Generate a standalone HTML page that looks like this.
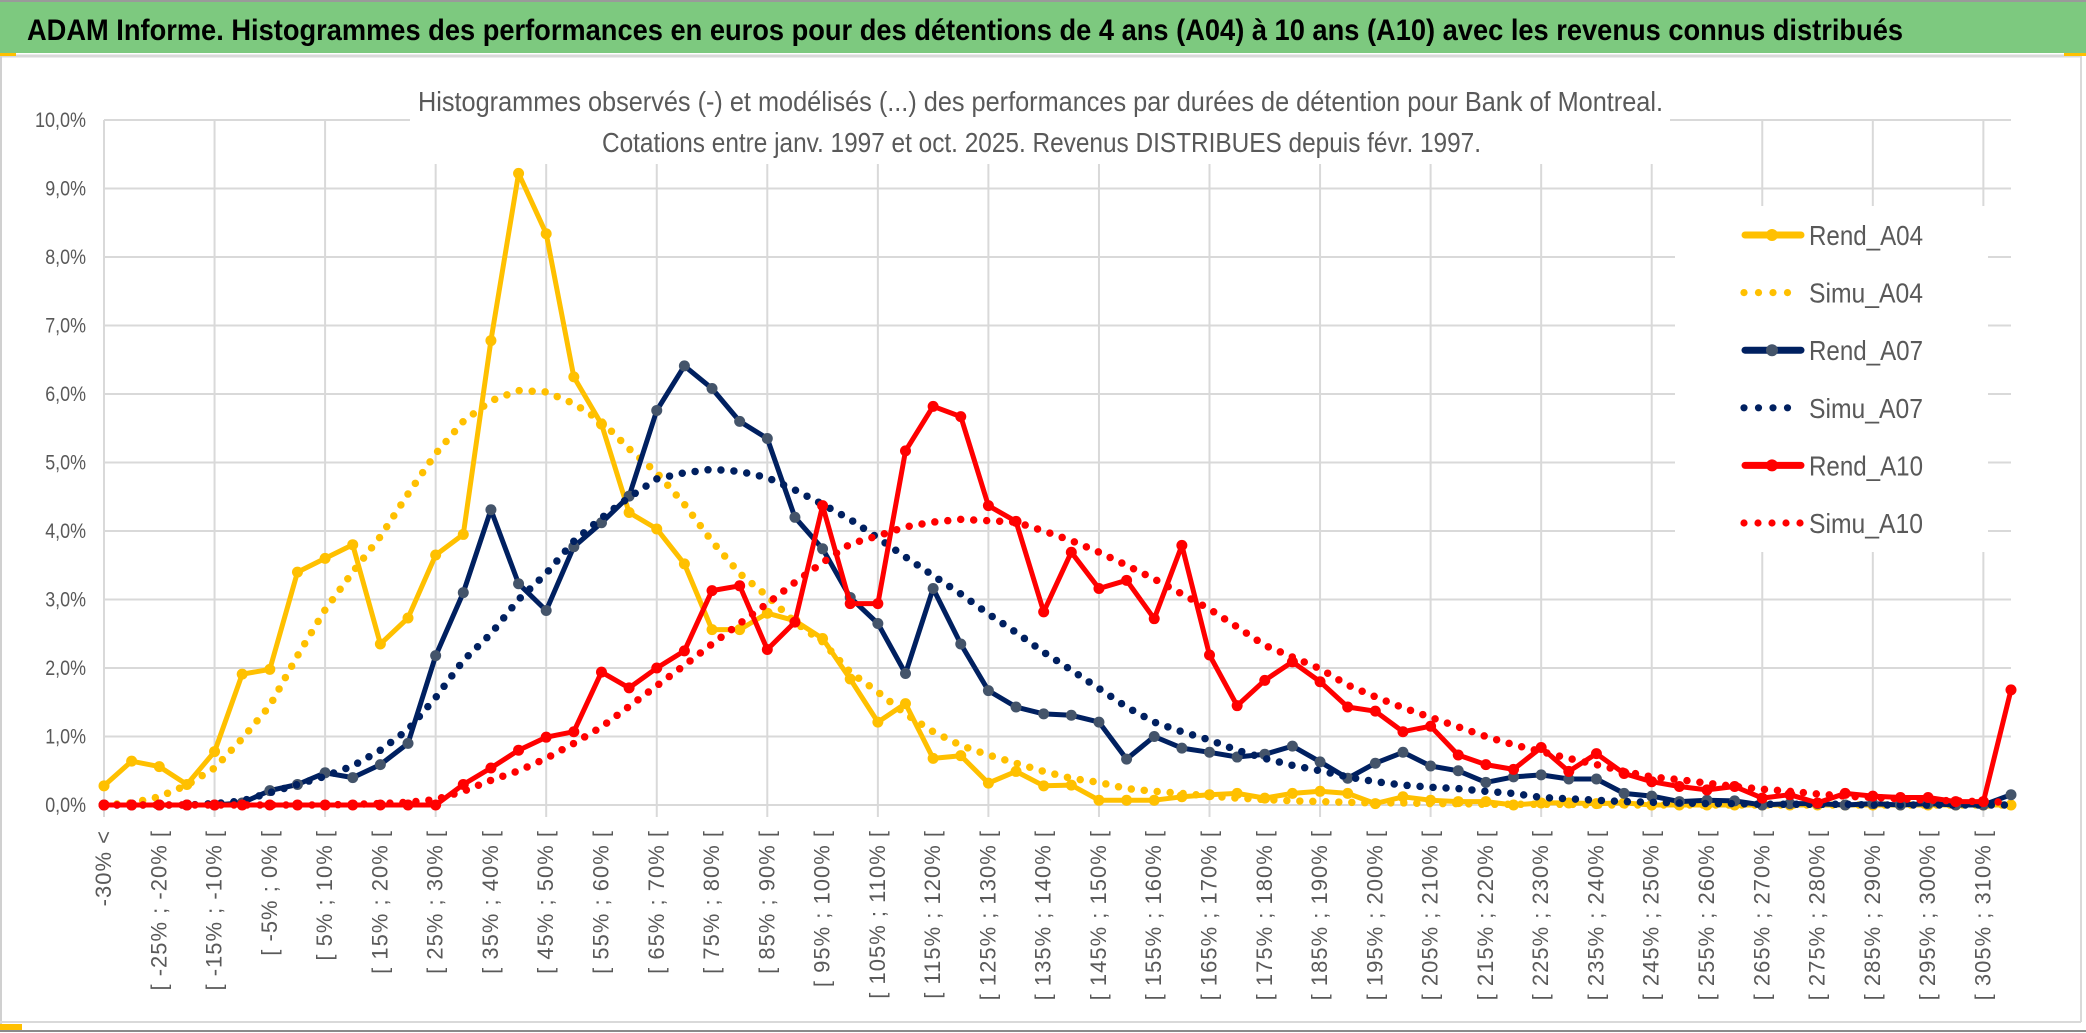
<!DOCTYPE html>
<html><head><meta charset="utf-8">
<style>
html,body{margin:0;padding:0;background:#fff;}
svg{display:block;}
text{font-family:"Liberation Sans",sans-serif;}
</style></head>
<body>
<svg id="chart" width="2086" height="1033" viewBox="0 0 2086 1033" xmlns="http://www.w3.org/2000/svg">
  <rect x="0" y="0" width="2086" height="1033" fill="#fff"/>
  <rect x="0" y="0" width="2086" height="53" fill="#7dc97f"/>
  <line x1="0" y1="1" x2="2086" y2="1" stroke="#9a9a9a" stroke-width="2"/>
  <text x="27" y="40" font-size="30" font-weight="bold" fill="#000" textLength="1876" lengthAdjust="spacingAndGlyphs">ADAM Informe. Histogrammes des performances en euros pour des détentions de 4 ans (A04) à 10 ans (A10) avec les revenus connus distribués</text>
  <line x1="0" y1="56" x2="2081" y2="56" stroke="#d9d9d9" stroke-width="3"/>
  <rect x="0" y="53" width="16" height="3" fill="#ffc000"/>
  <rect x="2064" y="53" width="22" height="3" fill="#ffc000"/>
  <line x1="2081" y1="56" x2="2081" y2="1022" stroke="#d9d9d9" stroke-width="2"/>
  <line x1="1" y1="56" x2="1" y2="1031" stroke="#d0d0d0" stroke-width="2"/>
  <line x1="0" y1="1022" x2="2081" y2="1022" stroke="#d9d9d9" stroke-width="2"/>
  <rect x="0" y="1024" width="22" height="6" fill="#ffc000"/>
  <line x1="0" y1="1031" x2="2086" y2="1031" stroke="#8a8a8a" stroke-width="2"/>
  <g id="grid"></g>
  <g id="yaxis"></g>
  <g id="xaxis"></g>
  <rect x="410" y="62" width="1260" height="102" fill="#fff"/>
  <text x="418" y="111" font-size="28" fill="#595959" textLength="1245" lengthAdjust="spacingAndGlyphs">Histogrammes observés (-) et modélisés (...) des performances par durées de détention pour Bank of Montreal.</text>
  <text x="602" y="152" font-size="28" fill="#595959" textLength="879" lengthAdjust="spacingAndGlyphs">Cotations entre janv. 1997 et oct. 2025. Revenus DISTRIBUES depuis févr. 1997.</text>
  <rect x="1675" y="206" width="313" height="346" fill="#fff"/>
  <g id="series"></g>
  <g id="legend"></g>
</svg>
<script>
const rendA04 = [0.28,0.64,0.56,0.30,0.78,1.91,1.98,3.40,3.60,3.80,2.35,2.73,3.65,3.95,6.78,9.22,8.34,6.25,5.56,4.27,4.03,3.52,2.56,2.56,2.8,2.69,2.43,1.84,1.21,1.48,0.68,0.72,0.32,0.49,0.28,0.29,0.07,0.07,0.07,0.12,0.15,0.17,0.1,0.17,0.2,0.17,0.02,0.12,0.07,0.05,0.05,0,0.03,0.03,0.02,0.03,0,0,0,0,0,0,0,0,0,0,0,0,0,0];
const simuA04 = [0,0.03,0.12,0.29,0.54,0.97,1.45,2.18,2.85,3.4,3.92,4.54,5.13,5.6,5.9,6.05,6.03,5.86,5.6,5.2,4.85,4.39,3.85,3.38,3.05,2.67,2.38,1.94,1.65,1.33,1.07,0.87,0.73,0.61,0.49,0.39,0.33,0.24,0.2,0.17,0.13,0.1,0.08,0.06,0.05,0.04,0.03,0.03,0.02,0.02,0.01,0.01,0.01,0.01,0,0,0,0,0,0,0,0,0,0,0,0,0,0,0,0];
const rendA07 = [0,0,0,0,0,0.03,0.21,0.3,0.47,0.4,0.59,0.9,2.18,3.1,4.31,3.23,2.84,3.77,4.12,4.51,5.76,6.41,6.08,5.6,5.35,4.2,3.74,3.03,2.65,1.92,3.16,2.35,1.67,1.43,1.33,1.31,1.21,0.67,1.0,0.83,0.77,0.7,0.74,0.86,0.63,0.39,0.61,0.77,0.57,0.5,0.33,0.41,0.44,0.38,0.38,0.17,0.13,0.05,0.07,0.06,0,0.02,0.02,0,0.02,0,0.02,0,0,0.15];
const simuA07 = [0,0,0,0,0.02,0.06,0.18,0.3,0.42,0.57,0.8,1.1,1.57,2.11,2.5,3.0,3.38,3.85,4.19,4.49,4.76,4.85,4.9,4.87,4.78,4.6,4.39,4.17,3.9,3.62,3.35,3.08,2.79,2.52,2.23,1.97,1.7,1.43,1.21,1.07,0.95,0.8,0.68,0.58,0.5,0.41,0.34,0.29,0.26,0.24,0.2,0.17,0.11,0.09,0.07,0.05,0.04,0.03,0.02,0.02,0.01,0.01,0.01,0.01,0,0,0,0,0,0];
const rendA10 = [0,0,0,0,0,0,0,0,0,0,0,0,0,0.3,0.54,0.8,0.99,1.07,1.94,1.71,2.0,2.25,3.13,3.2,2.27,2.67,4.37,2.94,2.94,5.17,5.82,5.67,4.37,4.14,2.82,3.69,3.16,3.28,2.72,3.79,2.19,1.45,1.82,2.09,1.8,1.43,1.37,1.07,1.15,0.73,0.59,0.52,0.84,0.49,0.75,0.46,0.34,0.27,0.22,0.27,0.1,0.15,0.03,0.17,0.13,0.11,0.11,0.05,0.05,1.68];
const simuA10 = [0,0,0,0,0,0,0,0,0,0.01,0.02,0.04,0.08,0.2,0.36,0.5,0.68,0.9,1.14,1.44,1.74,2.04,2.35,2.65,2.94,3.25,3.54,3.81,3.93,4.06,4.13,4.17,4.15,4.13,4.0,3.86,3.69,3.5,3.3,3.08,2.86,2.6,2.33,2.16,1.99,1.75,1.58,1.42,1.28,1.14,1.0,0.88,0.78,0.68,0.59,0.49,0.41,0.37,0.32,0.27,0.23,0.2,0.16,0.13,0.11,0.09,0.07,0.06,0.05,0.04];
const yTicks = [0,1,2,3,4,5,6,7,8,9,10];
const yTickLabels = ["0,0%","1,0%","2,0%","3,0%","4,0%","5,0%","6,0%","7,0%","8,0%","9,0%","10,0%"];
const categories = ["-30% <"];
for (let lo = -30; lo <= 310; lo += 5) categories.push("[ " + lo + "% ; " + (lo + 5) + "% [");

const NS = "http://www.w3.org/2000/svg";
const X0 = 104, X1 = 2011, Y0 = 805, Y10 = 120;
const xScale = i => X0 + i * (X1 - X0) / (categories.length - 1);
const yScale = v => Y0 - v * (Y0 - Y10) / 10;
function mk(tag, attrs, parent) {
  const e = document.createElementNS(NS, tag);
  for (const k in attrs) e.setAttribute(k, attrs[k]);
  parent.appendChild(e);
  return e;
}
const grid = document.getElementById('grid');
yTicks.forEach(t => {
  const l = mk('line', {x1: X0, x2: X1, y1: yScale(t), y2: yScale(t), stroke: '#d9d9d9', 'stroke-width': 2}, grid);
  
  
});
for (let i = 0; i < categories.length; i += 4) {
  const l = mk('line', {x1: xScale(i), x2: xScale(i), y1: Y10, y2: Y0 + 12, stroke: '#d9d9d9', 'stroke-width': 2}, grid);
  
  
}
const yaxis = document.getElementById('yaxis');
yTicks.forEach((t, k) => {
  const lbl = yTickLabels[k];
  const tx = mk('text', {x: 86, y: yScale(t) + 7, 'font-size': 21, fill: '#595959', 'text-anchor': 'end', textLength: lbl.length * 10.2, lengthAdjust: 'spacingAndGlyphs'}, yaxis);
  tx.textContent = lbl;
  
  
});
const xaxis = document.getElementById('xaxis');
categories.forEach((c, i) => {
  if (i % 2) return;
  const x = xScale(i) + 7, y = 830;
  const tx = mk('text', {x: x, y: y, 'font-size': 22, fill: '#595959', 'text-anchor': 'end', transform: 'rotate(-90 ' + x + ' ' + y + ')', 'letter-spacing': '1'}, xaxis);
  tx.textContent = c;
  
  
});
const seriesG = document.getElementById('series');
function pts(arr) { return arr.map((v, i) => xScale(i).toFixed(1) + ',' + yScale(v).toFixed(1)).join(' '); }
function drawSolid(arr, color, mcolor, name) {
  const g = mk('g', {}, seriesG);
  
  
  const pl = mk('polyline', {points: pts(arr), fill: 'none', stroke: color, 'stroke-width': 5, 'stroke-linejoin': 'round', 'stroke-linecap': 'round'}, g);
  
  
  arr.forEach((v, i) => {
    const c = mk('circle', {cx: xScale(i), cy: yScale(v), r: 5.5, fill: mcolor}, g);
    
    
  });
}
function drawDotted(arr, color, name) {
  const pl = mk('polyline', {points: pts(arr), fill: 'none', stroke: color, 'stroke-width': 7.5, 'stroke-linecap': 'round', 'stroke-linejoin': 'round', 'stroke-dasharray': '0 13'}, seriesG);
  
  
}
drawSolid(rendA04, '#ffc000', '#ffc000', 'rend-a04');
drawDotted(simuA04, '#ffc000', 'simu-a04');
drawSolid(rendA07, '#002060', '#44546a', 'rend-a07');
drawDotted(simuA07, '#002060', 'simu-a07');
drawSolid(rendA10, '#ff0000', '#ff0000', 'rend-a10');
drawDotted(simuA10, '#ff0000', 'simu-a10');

const legend = document.getElementById('legend');
const legendNames = ['Rend_A04','Simu_A04','Rend_A07','Simu_A07','Rend_A10','Simu_A10'];
const legendColors = ['#ffc000','#ffc000','#002060','#002060','#ff0000','#ff0000'];
const legendMarkers = ['#ffc000',null,'#44546a',null,'#ff0000',null];
legendNames.forEach((n, k) => {
  const y = 235 + k * 57.6;
  const g = mk('g', {}, legend);
  
  
  if (legendMarkers[k]) {
    mk('line', {x1: 1745, x2: 1801, y1: y, y2: y, stroke: legendColors[k], 'stroke-width': 7, 'stroke-linecap': 'round'}, g);
    mk('circle', {cx: 1772, cy: y, r: 6, fill: legendMarkers[k]}, g);
  } else {
    const nd = k === 5 ? 5 : 4;
    for (let d = 0; d < nd; d++) mk('circle', {cx: 1744 + d * (k === 5 ? 14 : 14.5), cy: y, r: 3.6, fill: legendColors[k]}, g);
  }
  const t = mk('text', {x: 1809, y: y + 10, 'font-size': 28, fill: '#595959', textLength: 114, lengthAdjust: 'spacingAndGlyphs'}, g);
  t.textContent = n;
});
</script>
</body></html>
